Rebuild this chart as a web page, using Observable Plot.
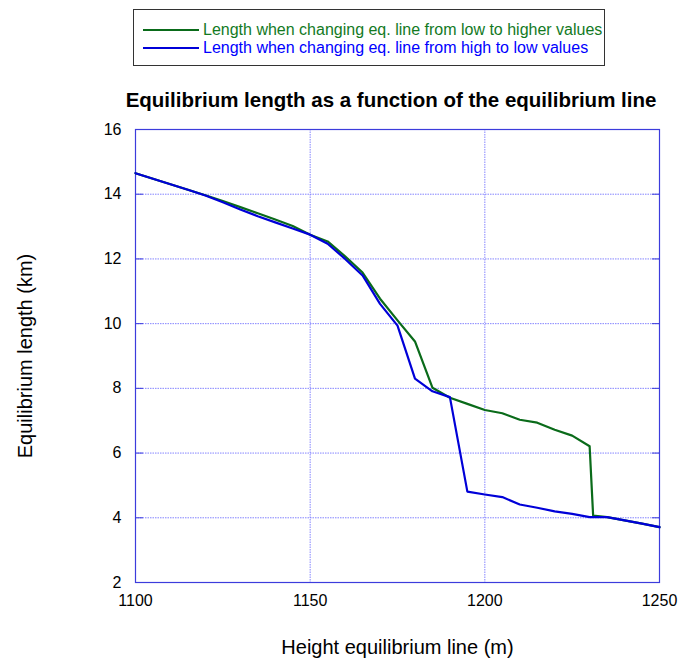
<!DOCTYPE html>
<html>
<head>
<meta charset="utf-8">
<script src="https://cdn.jsdelivr.net/npm/d3@7"></script>
<script src="https://cdn.jsdelivr.net/npm/@observablehq/plot@0.6"></script>
<style>
  html, body { margin: 0; padding: 0; background: #fff; }
  body { width: 681px; height: 663px; position: relative; overflow: hidden; font-family: "Liberation Sans", Arial, sans-serif; }
  #legend { position: absolute; left: 133px; top: 9px; width: 472px; height: 57px; border: 1.5px solid #333; box-sizing: border-box; background: #fff; }
  .item { position: absolute; left: 9px; height: 18px; display: flex; align-items: center; font-size: 16px; white-space: nowrap; }
  .item .sw { display: inline-block; width: 56px; height: 2px; margin-right: 4px; }
  #title { position: absolute; left: 0; width: 782px; top: 88px; text-align: center; font-weight: bold; font-size: 20.5px; color: #000; }
  #chart { position: absolute; left: 0; top: 0; }
</style>
</head>
<body>
<div id="chart"></div>
<div id="legend"></div>
<div id="title">Equilibrium length as a function of the equilibrium line</div>
<script>
// Heights of equilibrium line (m)
const heights = [1100, 1105, 1110, 1115, 1120, 1125, 1130, 1135, 1140, 1145, 1150, 1155, 1160, 1165, 1170, 1175, 1180, 1185, 1190, 1195, 1200, 1205, 1210, 1215, 1220, 1225, 1230, 1231, 1235, 1240, 1245, 1250];
// Length when raising eq. line (km)
const lengthUp = [14.65, 14.48, 14.31, 14.14, 13.97, 13.79, 13.6, 13.41, 13.22, 13.02, 12.75, 12.54, 12.08, 11.58, 10.77, 10.1, 9.45, 8.02, 7.71, 7.52, 7.33, 7.23, 7.03, 6.94, 6.72, 6.54, 6.21, 4.07, 4.02, 3.92, 3.82, 3.71];
// Length when lowering eq. line (km)
const heightsDown = [1100, 1105, 1110, 1115, 1120, 1125, 1130, 1135, 1140, 1145, 1150, 1155, 1160, 1165, 1170, 1175, 1180, 1185, 1190, 1195, 1200, 1205, 1210, 1215, 1220, 1225, 1230, 1235, 1240, 1245, 1250];
const lengthDown = [14.65, 14.48, 14.31, 14.14, 13.96, 13.75, 13.53, 13.32, 13.13, 12.94, 12.75, 12.47, 12.0, 11.49, 10.61, 9.94, 8.3, 7.91, 7.73, 4.81, 4.72, 4.64, 4.41, 4.31, 4.2, 4.12, 4.02, 4.02, 3.92, 3.82, 3.71];

const seriesNames = ["Length when changing eq. line from low to higher values", "Length when changing eq. line from high to low values"];
const seriesColors = ["#0a6b1a", "#0000d8"];
const legendTextColors = ["#137a1f", "#0000ff"];
const xTicks = [1100, 1150, 1200, 1250];
const yTicks = [2, 4, 6, 8, 10, 12, 14, 16];

const up = heights.map((h, i) => ({h, L: lengthUp[i], s: seriesNames[0]}));
const down = heightsDown.map((h, i) => ({h, L: lengthDown[i], s: seriesNames[1]}));

const frameColor = "#3c3cdc";
const gridColor = "#7878ff";

const chart = Plot.plot({
  width: 681,
  height: 663,
  marginLeft: 135,
  marginRight: 22,
  marginTop: 129,
  marginBottom: 81,
  style: {fontFamily: "Liberation Sans, Arial, sans-serif", fontSize: "16px", color: "#000", background: "transparent"},
  x: {domain: [1100, 1250], ticks: xTicks},
  y: {domain: [2, 16], ticks: yTicks},
  marks: [
    Plot.gridX(xTicks, {stroke: gridColor, strokeOpacity: 0.9, strokeDasharray: "1.5,1"}),
    Plot.gridY(yTicks, {stroke: gridColor, strokeOpacity: 0.9, strokeDasharray: "1.5,1"}),
    Plot.axisY(yTicks, {anchor: "left", tickSize: -8, tickPadding: 22, stroke: frameColor, fill: "#000", fontSize: 16, label: null}),
    Plot.axisY(yTicks, {anchor: "right", tickSize: -8, text: null, stroke: frameColor, label: null}),
    Plot.axisX(xTicks, {anchor: "bottom", tickSize: 0, tickPadding: 12, fill: "#000", fontSize: 16, label: null, tickFormat: (d) => String(d)}),
    Plot.frame({stroke: frameColor, strokeWidth: 1.2}),
    Plot.line(up, {x: "h", y: "L", stroke: seriesColors[0], strokeWidth: 2.2}),
    Plot.line(down, {x: "h", y: "L", stroke: seriesColors[1], strokeWidth: 2.2}),
    Plot.text(["Height equilibrium line (m)"], {frameAnchor: "bottom", dy: 71, fontSize: 20, fill: "#000"}),
    Plot.text(["Equilibrium length (km)"], {frameAnchor: "left", textAnchor: "middle", dx: -110, rotate: -90, fontSize: 20, fill: "#000"})
  ]
});
document.getElementById("chart").appendChild(chart);

const legend = document.getElementById("legend");
seriesNames.forEach((name, i) => {
  const d = document.createElement("div");
  d.className = "item";
  d.style.top = (11 + i * 18) + "px";
  d.style.color = legendTextColors[i];
  const sw = document.createElement("span");
  sw.className = "sw";
  sw.style.background = seriesColors[i];
  d.appendChild(sw);
  d.appendChild(document.createTextNode(name));
  legend.appendChild(d);
});
</script>
</body>
</html>
